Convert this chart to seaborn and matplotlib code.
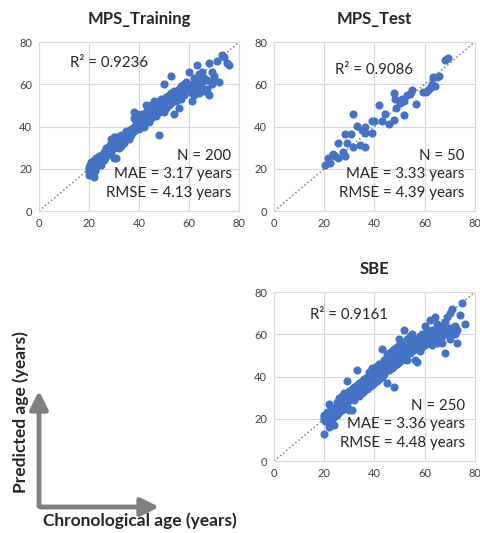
import matplotlib
matplotlib.use("Agg")
import matplotlib.pyplot as plt
from matplotlib.patches import FancyArrowPatch
import numpy as np
import pandas as pd
import seaborn as sns

# ---- data (chronological age, predicted age) ----
train_pairs = [
    (20, 17), (20, 19), (20, 20), (20, 21), (20.5, 18), (20.5, 22), (21, 17), (21, 19), (21, 21), (21, 23),
    (21.5, 20), (21.5, 18), (22, 16), (22, 20), (22, 22), (22, 24), (22.5, 21), (22.5, 19), (23, 21), (23, 23),
    (23, 25), (23.5, 22), (23.5, 24), (24, 22), (24, 24), (24, 26), (24.5, 23), (24.5, 25), (25, 24), (25, 26),
    (25, 22), (25.5, 25), (25.5, 27), (26, 26), (26, 24), (26, 28), (26.5, 27), (26.5, 25), (27, 26), (27, 28),
    (27, 30), (27.5, 29), (27.5, 27), (28, 27), (28, 29), (28, 31), (28.5, 30), (28.5, 28), (29, 28), (29, 30),
    (29, 32), (29, 34), (29.5, 31), (30, 30), (30, 33), (30, 25), (30, 35), (30.5, 32), (31, 25), (31, 31),
    (31, 33), (31, 35), (31.5, 34), (32, 32), (32, 34), (32, 30), (32.5, 33), (33, 31), (33, 34), (33, 36),
    (33.5, 33), (34, 33), (34, 35), (34, 32), (35, 34), (35, 36), (35, 38), (35.5, 35), (36, 36), (36, 38),
    (36, 34), (36.5, 37), (37, 37), (37, 39), (37, 36), (37.5, 38), (38, 38), (38, 40), (38, 47), (38.5, 39),
    (38, 44), (39, 40), (39, 42), (39, 44), (39, 46), (39.5, 41), (40, 40), (40, 42), (40, 45), (40, 39),
    (40.5, 43), (41, 41), (41, 44), (41, 46), (42, 42), (42, 44), (42, 40), (42.5, 45), (43, 44), (43, 47),
    (43, 50), (43.5, 46), (44, 45), (44, 48), (44, 42), (45, 47), (45, 44), (45, 50), (45.5, 48), (46, 46),
    (46, 49), (46, 52), (46.5, 47), (47, 48), (47, 50), (47, 45), (48, 36), (48, 47), (48, 49), (48, 52),
    (48.5, 50), (49, 48), (49, 51), (49, 53), (50, 50), (50, 52), (50, 47), (50, 60), (51, 51), (51, 54),
    (51, 49), (52, 52), (52, 55), (52, 50), (52.5, 53), (53, 64), (53, 51), (53, 54), (53, 56), (54, 46),
    (54, 53), (54, 57), (55, 54), (55, 56), (55, 52), (56, 55), (56, 58), (56, 49), (57, 56), (57, 59),
    (57, 53), (58, 57), (58, 60), (58, 55), (59, 58), (59, 61), (60, 57), (60, 59), (60, 66), (61, 52),
    (61, 56), (61, 60), (62, 58), (62, 63), (62, 55), (63, 57), (63, 60), (63, 69), (64, 56), (64, 62),
    (64, 65), (65, 58), (65, 61), (65, 66), (66, 57), (66, 63), (67, 62), (67, 58), (68, 55), (68, 70),
    (69, 60), (69, 66), (70, 62), (70, 64), (71, 71), (72, 61), (73, 74), (74, 73), (75, 70), (76, 69),
]
test_pairs = [
    (20.2, 21.7), (21.5, 25.2), (22.4, 22.8), (23.5, 27.2), (24.4, 26), (25.3, 24.9), (25.4, 32.4), (27.3, 28),
    (28.3, 26), (28.3, 36.7), (30.5, 36.7), (29.2, 32.4), (31.5, 46.1), (31.5, 30.4), (33.1, 40.3), (34.1, 31.2),
    (35.2, 38.6), (36.1, 30.4), (36.1, 39.8), (36.4, 37), (39.1, 37.2), (39.1, 42.7), (40, 42.7), (42, 50),
    (43, 42.7), (44.3, 45.8), (46, 41.4), (47.8, 43.3), (47.8, 56), (48.2, 53.2), (48.5, 49), (50.4, 51.2),
    (51.1, 53.2), (51.7, 52), (52, 45.4), (53, 54.8), (54.1, 55.6), (55, 57.2), (56.7, 50.5), (59.5, 56.4),
    (60.5, 56.4), (61.5, 57.5), (62.1, 58.4), (62.8, 60.3), (63.5, 63.5), (64.1, 59), (64.8, 63.5), (65.7, 63.8),
    (68, 71.5), (69.3, 72.6),
]
sbe_pairs = [
    (20, 13), (20, 20), (20, 21), (20, 22), (20.5, 19), (21, 21), (21, 23), (21, 19), (21.5, 22), (22, 16),
    (22, 20), (22, 27), (22, 23), (22.5, 21), (23, 22), (23, 24), (23, 20), (23.5, 23), (24, 17), (24, 23),
    (24, 25), (24, 21), (24.5, 24), (25, 24), (25, 26), (25, 22), (25, 28), (25.5, 25), (26, 25), (26, 27),
    (26, 30), (26, 23), (26.5, 26), (27, 26), (27, 28), (27, 31), (27, 24), (27.5, 27), (28, 27), (28, 29),
    (28, 32), (28, 25), (28.5, 28), (29, 28), (29, 30), (29, 38), (29, 26), (29.5, 29), (30, 29), (30, 31),
    (30, 33), (30, 24), (30.5, 30), (31, 30), (31, 32), (31, 34), (31, 24), (31.5, 31), (32, 31), (32, 33),
    (32, 35), (32, 29), (32.5, 32), (33, 43), (33, 32), (33, 34), (33, 36), (33.5, 33), (34, 33), (34, 35),
    (34, 37), (34, 31), (34.5, 34), (35, 34), (35, 36), (35, 38), (35, 32), (35.5, 35), (36, 35), (36, 37),
    (36, 39), (36, 33), (36.5, 36), (37, 36), (37, 38), (37, 40), (37, 34), (37.5, 37), (38, 37), (38, 39),
    (38, 42), (38, 35), (38.5, 38), (39, 38), (39, 40), (39, 44), (39, 36), (39.5, 39), (40, 39), (40, 41),
    (40, 44), (40, 37), (40.5, 40), (41, 40), (41, 42), (41, 45), (41, 38), (41.5, 41), (42, 41), (42, 43),
    (42, 46), (42, 39), (43, 42), (43, 44), (43, 53), (43, 40), (44, 43), (44, 45), (44, 48), (44, 41),
    (45, 44), (45, 46), (45, 50), (45, 37), (45.5, 45), (46, 45), (46, 47), (46, 51), (46, 43), (47, 46),
    (47, 48), (47, 52), (47, 44), (48, 35), (48, 47), (48, 49), (48, 53), (48, 45), (49, 48), (49, 50),
    (49, 54), (49, 46), (50, 49), (50, 51), (50, 55), (50, 47), (50, 58), (51, 50), (51, 52), (51, 56),
    (51, 48), (52, 51), (52, 53), (52, 62), (52, 49), (53, 52), (53, 54), (53, 58), (53, 48), (54, 53),
    (54, 55), (54, 59), (54, 51), (55, 54), (55, 56), (55, 60), (55, 52), (56, 55), (56, 57), (56, 48),
    (56, 53), (57, 56), (57, 58), (57, 54), (57, 47), (58, 57), (58, 59), (58, 55), (58, 52), (59, 58),
    (59, 60), (59, 56), (59, 54), (60, 57), (60, 59), (60, 64), (60, 55), (61, 58), (61, 60), (61, 56),
    (61, 62), (62, 59), (62, 61), (62, 67), (62, 57), (63, 58), (63, 60), (63, 62), (63, 55), (64, 59),
    (64, 61), (64, 68), (64, 57), (65, 60), (65, 62), (65, 65), (65, 56), (66, 58), (66, 61), (66, 63),
    (67, 59), (67, 64), (67, 56), (68, 51), (68, 62), (68, 66), (69, 60), (69, 68), (70, 63), (70, 70),
    (70, 58), (71, 61), (71, 72), (72, 64), (72, 60), (73, 56), (73, 62), (74, 69), (75, 75), (76, 65),
]

titles = ["MPS_Training", "MPS_Test", "SBE"]
r2_labels = ["R\u00b2 = 0.9236", "R\u00b2 = 0.9086", "R\u00b2 = 0.9161"]
stat_labels = [
    ["N = 200", "MAE = 3.17 years", "RMSE = 4.13 years"],
    ["N = 50", "MAE = 3.33 years", "RMSE = 4.39 years"],
    ["N = 250", "MAE = 3.36 years", "RMSE = 4.48 years"],
]
ticks = [0, 20, 40, 60, 80]

sns.set_style("white")
plt.rcParams["font.family"] = ["Lato", "DejaVu Sans"]

fig = plt.figure(figsize=(4.8, 5.33), dpi=100)

# axes rectangles in figure fractions (left, bottom, width, height)
rects = [
    [0.081, 0.604, 0.417, 0.317],
    [0.571, 0.604, 0.418, 0.317],
    [0.571, 0.135, 0.418, 0.317],
]
r2_pos = [(28, 70), (40, 67), (30, 69)]
stat_x = [77, 76, 76]

for i, pairs in enumerate([train_pairs, test_pairs, sbe_pairs]):
    df = pd.DataFrame(pairs, columns=["chrono", "pred"])
    ax = fig.add_axes(rects[i])
    ax.plot([0, 80], [0, 80], color="#7F7F7F", lw=1.1, ls=(0, (1, 1.6)), zorder=1)
    sns.scatterplot(data=df, x="chrono", y="pred", ax=ax, color="#4472C4",
                    s=34, linewidth=0, alpha=1, zorder=2)
    ax.set_xlim(0, 80)
    ax.set_ylim(0, 80)
    ax.set_xticks(ticks)
    ax.set_yticks(ticks)
    ax.grid(True, color="#D9D9D9", lw=0.8)
    ax.set_axisbelow(True)
    for sp in ax.spines.values():
        sp.set_color("#D9D9D9")
        sp.set_linewidth(0.8)
    ax.tick_params(length=0, labelsize=8, colors="#404040", pad=5)
    ax.set_xlabel("")
    ax.set_ylabel("")
    ax.set_title(titles[i], fontsize=12, fontweight="bold", pad=13)
    ax.text(r2_pos[i][0], r2_pos[i][1], r2_labels[i], fontsize=10.8,
            ha="center", va="center", color="#262626")
    for txt, yy in zip(stat_labels[i], [26, 17.5, 8.5]):
        ax.text(stat_x[i], yy, txt, fontsize=10.8, ha="right", va="center",
                color="#262626")

# schematic axes in the lower-left corner
H = 533.0
arrow_kw = dict(transform=fig.transFigure, arrowstyle="-|>,head_width=0.45,head_length=0.9",
                color="#808080", lw=3.5, mutation_scale=12)
fig.add_artist(FancyArrowPatch((39 / 480, (H - 509) / H), (39 / 480, (H - 388) / H), **arrow_kw))
fig.add_artist(FancyArrowPatch((37.5 / 480, (H - 507) / H), (162 / 480, (H - 507) / H), **arrow_kw))
fig.text(21 / 480, (H - 412) / H, "Predicted age (years)", rotation=90, fontsize=12.5,
         fontweight="bold", ha="center", va="center")
fig.text(140 / 480, (H - 521) / H, "Chronological age (years)", fontsize=12.5,
         fontweight="bold", ha="center", va="center")

fig.savefig("out.png", dpi=100)
